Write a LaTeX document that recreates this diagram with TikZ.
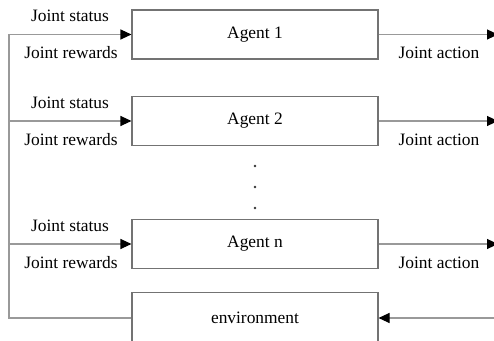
\documentclass[tikz,border=0pt]{standalone}
\usepackage{fontspec}
\setmainfont{Liberation Serif}
\usetikzlibrary{positioning,arrows.meta}

\begin{document}
\begin{tikzpicture}[
  x=0.5pt, y=-0.5pt,
  agent/.style={draw=black!55, line width=0.55pt, minimum width=123pt,
                minimum height=24.5pt, inner sep=0pt,
                font=\fontsize{8.7}{10}\selectfont},
  lab/.style  ={font=\fontsize{8.7}{10}\selectfont, inner sep=0pt},
  wire/.style ={draw=black!40, line width=0.55pt},
  sig/.style  ={wire, -{Triangle[length=5.5pt,width=5pt,color=black]}},
  dot/.style  ={circle, fill=black!80, inner sep=0pt, minimum size=1.3pt},
]
\clip (0,0) rectangle (494,341);
% ---------------- agents and environment ----------------
\node[agent] (agent1) at (255,34.5) {Agent 1};
\node[agent] (agent2) at (255,121)  {Agent 2};
\node[agent] (agentn) at (255,244)  {Agent n};
\node[agent, minimum height=25.5pt] (env) at (255,318) {environment};
% ---------------- dots between agent 2 and agent n ----------------
\node[dot] (dota) at (255,166) {};
\node[dot] (dotb) at (255,187) {};
\node[dot] (dotc) at (255,208) {};
% ---------------- labels ----------------
\node[lab] (status1)  at (70,16)   {Joint status};
\node[lab] (reward1)  at (71,53)   {Joint rewards};
\node[lab] (action1)  at (439,53)  {Joint action};
\node[lab] (status2)  at (70,103)  {Joint status};
\node[lab] (reward2)  at (71,140)  {Joint rewards};
\node[lab] (action2)  at (439,140) {Joint action};
\node[lab] (statusn)  at (70,226)  {Joint status};
\node[lab] (rewardn)  at (71,263)  {Joint rewards};
\node[lab] (actionn)  at (439,263) {Joint action};
% ---------------- feedback bus (left) ----------------
\coordinate (bustop) at (9,34.5);
\coordinate (busbot) at (9,318);
\draw[wire] (env.west) -- (busbot) -- (bustop);
\draw[sig] (bustop) -- (agent1.west);
\draw[sig] (bustop |- agent2.west) -- (agent2.west);
\draw[sig] (bustop |- agentn.west) -- (agentn.west);
% ---------------- joint actions (right) ----------------
\coordinate (out1) at (498,34.5);
\coordinate (out2) at (498,121);
\coordinate (outn) at (498,244);
\coordinate (envin) at (494,318);
\draw[sig] (agent1.east) -- (out1);
\draw[sig] (agent2.east) -- (out2);
\draw[sig] (agentn.east) -- (outn);
\draw[sig] (envin) -- (env.east);
\end{tikzpicture}
\end{document}
